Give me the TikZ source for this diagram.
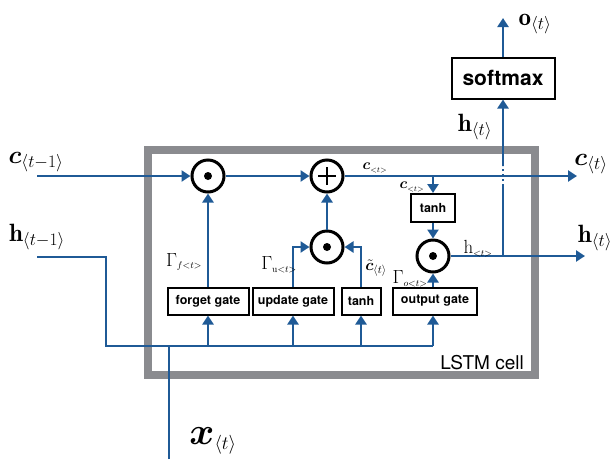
\RequirePackage{fix-cm}
\documentclass[tikz,border=0pt]{standalone}
\usepackage{fontspec}
\usepackage{amsmath,bm}
\newfontfamily\helv{TeX Gyre Heros}
\usetikzlibrary{arrows.meta}
\definecolor{lstmblue}{HTML}{1F5A96}
\definecolor{cellgray}{HTML}{8A8B8F}
\newcommand{\fsz}[1]{\fontsize{#1}{#1}\selectfont}
\tikzset{
  flow/.style={draw=lstmblue,line width=2.8pt,-{Triangle[length=9pt,width=11pt]}},
  wire/.style={draw=lstmblue,line width=2.8pt},
  op/.style={circle,draw=black,line width=3pt,fill=white,minimum size=32pt,inner sep=0pt},
  gatebox/.style={draw=black,line width=2pt,fill=white,inner sep=0pt,
    minimum height=27pt,font=\helv\bfseries\fsz{12.5}},
  biglbl/.style={inner sep=0pt,font=\fsz{25}},
  smalllbl/.style={inner sep=0pt,font=\fsz{19}},
}
\begin{document}
\begin{tikzpicture}[x=1pt,y=-1pt]
  \useasboundingbox (0,0) rectangle (613,459);
  % the cell
  \draw[cellgray,line width=8pt] (148,150) rectangle (535,375);
  \node[inner sep=0pt,font=\helv\fsz{19}] (cell) at (482,363) {LSTM cell};
  % operations
  \node[op] (forgetmul) at (208,176) {};
  \node[op] (addc) at (327,176) {};
  \node[op] (updmul) at (327,247) {};
  \node[op] (outmul) at (433,256) {};
  \fill (forgetmul) circle (4) (updmul) circle (4) (outmul) circle (4);
  \draw[line width=1.5pt] ([xshift=-9pt]addc.center) -- ([xshift=9pt]addc.center)
    ([yshift=-9pt]addc.center) -- ([yshift=9pt]addc.center);
  % boxes
  \node[gatebox,minimum width=81pt] (forget) at (208,301) {forget gate};
  \node[gatebox,minimum width=81pt] (update) at (293,301) {update gate};
  \node[gatebox,minimum width=39pt] (tanhc) at (361,301) {tanh};
  \node[gatebox,minimum width=84pt] (output) at (435,301) {output gate};
  \node[gatebox,minimum width=44pt,minimum height=28pt] (tanho) at (433,208) {tanh};
  \node[gatebox,minimum width=103pt,minimum height=41pt,font=\helv\bfseries\fsz{21}]
    (softmax) at (503,78) {softmax};
  % end points
  \coordinate (cin) at (37,176);
  \coordinate (cout) at (577,176);
  \coordinate (hin) at (37,257);
  \coordinate (hbend) at (106,257);
  \coordinate (busl) at (106,346);
  \coordinate (bus) at (433,346);
  \coordinate (xin) at (169,459);
  \coordinate (xjoin) at (169,346);
  \coordinate (hout) at (585,256);
  \coordinate (hjoin) at (503,256);
  \coordinate (hgapb) at (503,186);
  \coordinate (hgapt) at (503,166);
  \coordinate (oout) at (503,18);
  % wires
  \draw[wire] (hin) -- (hbend) -- (busl) -- (bus);
  \draw[wire] (xin) -- (xjoin);
  \foreach \g in {forget,update,tanhc}
    \draw[flow] (\g.south |- bus) -- (\g.south);
  \draw[flow] (bus) -- (bus |- output.south);
  \draw[flow] (cin) -- (forgetmul);
  \draw[flow] (forget) -- (forgetmul);
  \draw[flow] (forgetmul) -- (addc);
  \draw[flow] (update.north) |- (updmul.west);
  \draw[flow] (tanhc.north) |- (updmul.east);
  \draw[flow] (updmul) -- (addc);
  \draw[flow] (addc) -- (cout);
  \draw[flow] (tanho |- addc) -- (tanho);
  \draw[flow] (tanho) -- (outmul);
  \draw[flow] (output.north -| outmul) -- (outmul);
  \draw[flow] (outmul) -- (hout);
  \draw[wire] (hjoin) -- (hgapb);
  \draw[lstmblue,line width=2.8pt,dash pattern=on 2.5pt off 2.5pt] (hgapb) -- (hgapt);
  \draw[flow] (hgapt) -- (softmax);
  \draw[flow] (softmax) -- (oout);
  % labels
  \node[biglbl] (lcprev) at (36,162) {$\bm{c}_{\langle t-1\rangle}$};
  \node[biglbl] (lhprev) at (37,237) {$\mathbf{h}_{\langle t-1\rangle}$};
  \node[biglbl] (lcnext) at (591,164) {$\bm{c}_{\langle t\rangle}$};
  \node[biglbl] (lhnext) at (595,238) {$\mathbf{h}_{\langle t\rangle}$};
  \node[biglbl] (lhsoft) at (475,127) {$\mathbf{h}_{\langle t\rangle}$};
  \node[biglbl] (lout) at (535,24) {$\mathbf{o}_{\langle t\rangle}$};
  \node[inner sep=0pt,font=\fsz{38}] (lx) at (213,441)
    {$\bm{x}_{\scriptscriptstyle\langle t\rangle}$};
  \node[inner sep=0pt,font=\fsz{15}] (lcline) at (375,168) {$\bm{c}_{\scriptscriptstyle<t>}$};
  \node[inner sep=0pt,font=\fsz{15}] (lctanh) at (412,187) {$\bm{c}_{\scriptscriptstyle<t>}$};
  \node[smalllbl] (lgf) at (184,262) {$\Gamma_{\scriptscriptstyle f<t>}$};
  \node[smalllbl] (lgu) at (279,265) {$\Gamma_{\scriptscriptstyle\mathrm{u}<t>}$};
  \node[smalllbl] (lgo) at (410,279) {$\Gamma_{\scriptscriptstyle o<t>}$};
  \node[inner sep=0pt,font=\fsz{16}] (lctil) at (376,268) {$\tilde{\bm{c}}_{\langle t\rangle}$};
  \node[smalllbl] (lhcell) at (478,249) {$\mathrm{h}_{\scriptscriptstyle<t>}$};
\end{tikzpicture}
\end{document}
